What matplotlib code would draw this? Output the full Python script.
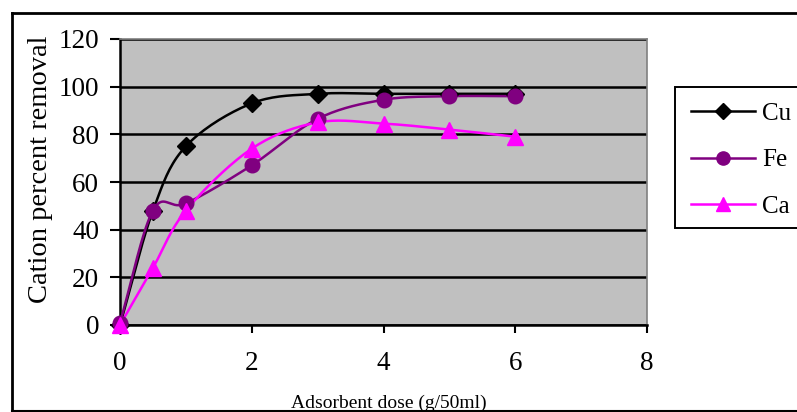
import matplotlib
matplotlib.use('Agg')
import matplotlib.pyplot as plt
from matplotlib.lines import Line2D
from matplotlib.patches import Rectangle
import numpy as np

# Adsorbent dose (g/50ml)
dose = [0, 0.5, 1, 2, 3, 4, 5, 6]
cu = [0, 48, 75, 93, 97, 97, 97, 97]
fe = [1, 48, 51, 67, 86.5, 94.5, 96, 96]
ca = [0, 24, 48, 74, 85, 84.5, 82, 79]

x_ticks = [0, 2, 4, 6, 8]
y_ticks = [0, 20, 40, 60, 80, 100, 120]


def smooth(xs, ys, n=20):
    # Catmull-Rom style smoothing, like Excel's smoothed line
    xs = np.asarray(xs, float)
    ys = np.asarray(ys, float)
    px = np.concatenate([[2 * xs[0] - xs[1]], xs, [2 * xs[-1] - xs[-2]]])
    py = np.concatenate([[2 * ys[0] - ys[1]], ys, [2 * ys[-1] - ys[-2]]])
    ox, oy = [], []
    t = np.linspace(0, 1, n)
    for i in range(1, len(px) - 2):
        for p, o in ((px, ox), (py, oy)):
            p0, p1, p2, p3 = p[i - 1], p[i], p[i + 1], p[i + 2]
            c1 = p1 + (p2 - p0) / 6.0
            c2 = p2 - (p3 - p1) / 6.0
            seg = ((1 - t) ** 3 * p1 + 3 * (1 - t) ** 2 * t * c1
                   + 3 * (1 - t) * t ** 2 * c2 + t ** 3 * p2)
            o.extend(seg if i == 1 else seg[1:])
    return np.array(ox), np.array(oy)


plt.rcParams['font.family'] = ['Liberation Serif', 'DejaVu Serif']

W, H = 797, 412
fig = plt.figure(figsize=(W / 100, H / 100), dpi=100)
ax = fig.add_axes([120 / W, 1 - 325 / H, 527 / W, 286 / H])
ax.set_facecolor('#C0C0C0')

series = [
    ('Cu', cu, 'black', 'D', 9.5),
    ('Fe', fe, '#800080', 'o', 10.5),
    ('Ca', ca, '#FF00FF', '^', 11),
]
handles = []
for name, ys, color, marker, ms in series:
    sx, sy = smooth(dose, ys)
    ax.plot(sx, sy, color=color, lw=1.8, zorder=3, clip_on=False)
    ax.plot(dose, ys, ls='none', marker=marker, ms=ms, color=color,
            zorder=4, clip_on=False)
    handles.append(Line2D([0], [0], color=color, lw=1.8, marker=marker,
                          ms=ms - 1, label=name))

ax.set_xlim(0, 8)
ax.set_ylim(0, 120)
ax.set_xticks(x_ticks)
ax.set_yticks(y_ticks)
ax.yaxis.grid(True, color='black', lw=1.8)
ax.set_axisbelow(True)
ax.tick_params(axis='both', direction='out', width=1.5,
               labelsize=19.5, colors='black')
ax.tick_params(axis='x', length=6, pad=13)
ax.tick_params(axis='y', length=7, pad=8)
for s in ('left', 'bottom'):
    ax.spines[s].set_linewidth(1.8)
    ax.spines[s].set_color('black')
for s in ('top', 'right'):
    ax.spines[s].set_linewidth(1.2)
    ax.spines[s].set_color('#808080')

ax.set_ylabel('Cation percent removal', fontsize=20.5)
ax.yaxis.set_label_coords(-0.127, 0.545)
fig.text(389 / W, 1 - 403 / H, 'Adsorbent dose (g/50ml)', fontsize=14,
         ha='center', va='center')

# legend box, its right edge runs off the image
fig.add_artist(Rectangle((675 / W, 1 - 228 / H), 140 / W, 141 / H,
                         transform=fig.transFigure, facecolor='white',
                         edgecolor='black', lw=1.4, zorder=5))
leg = fig.legend(handles=handles, loc='upper left',
                 bbox_to_anchor=(691 / W, 1 - 102 / H), fontsize=18,
                 frameon=False, handlelength=2.55, labelspacing=0.97,
                 borderpad=0, handletextpad=0.28, borderaxespad=0)
leg.set_zorder(6)

# outer chart border (right edge falls outside the image)
fig.add_artist(Line2D([12 / W, 1.0], [1 - 13 / H] * 2, color='black',
                      lw=2, transform=fig.transFigure))
fig.add_artist(Line2D([12 / W] * 2, [1 - 13 / H, 1 - 411 / H],
                      color='black', lw=2, transform=fig.transFigure))
fig.add_artist(Line2D([12 / W, 1.0], [1 - 411 / H] * 2, color='black',
                      lw=1.5, transform=fig.transFigure))

fig.savefig('out.png', dpi=100)
